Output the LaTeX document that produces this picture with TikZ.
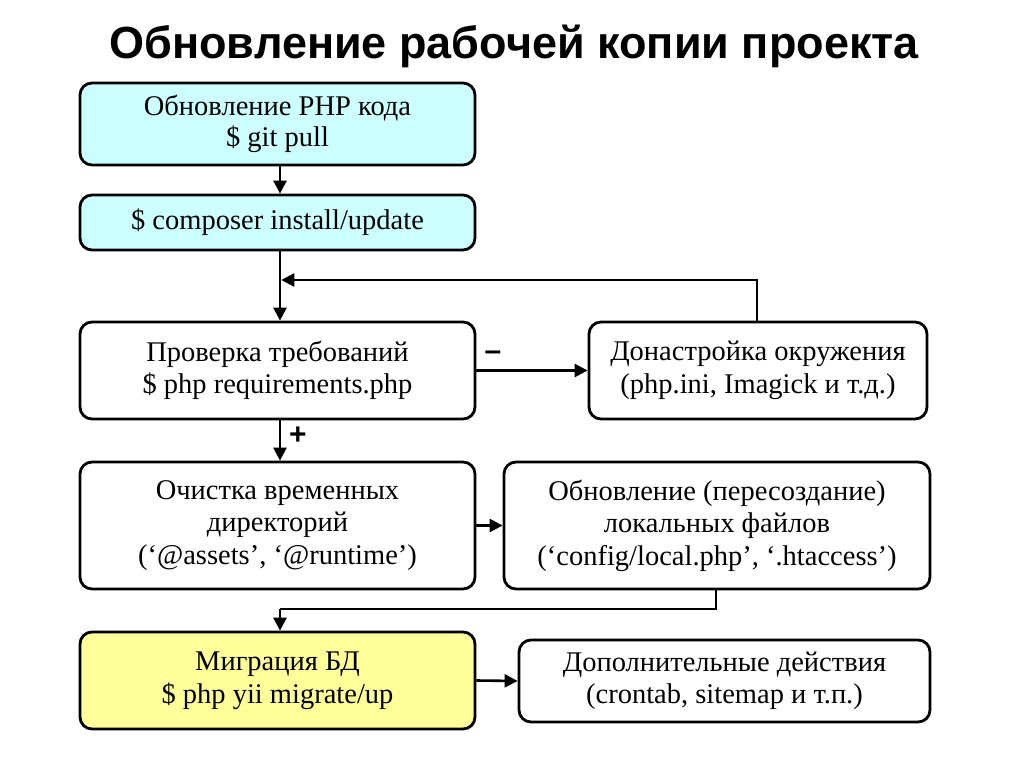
\documentclass[tikz,border=0pt]{standalone}
\usepackage{fontspec}
\setmainfont{Liberation Serif}
\newfontfamily\titlefont{Liberation Sans}
\usetikzlibrary{arrows.meta}
\definecolor{cyanfill}{HTML}{CCFFFF}
\definecolor{yellowfill}{HTML}{FFFF99}
\tikzset{
  box/.style={draw=black, line width=2.8pt, rounded corners=12pt, align=center, inner sep=0pt,
    font=\fontsize{28.5}{32.5}\selectfont},
  arr/.style={line width=2.6pt, -{Triangle[length=13pt,width=13pt]}},
  ln/.style={line width=2.6pt},
  sign/.style={font=\titlefont\bfseries\fontsize{30}{32}\selectfont},
}
\begin{document}
\begin{tikzpicture}[x=1pt,y=-1pt]
\useasboundingbox (0,0) rectangle (1024,767);
\node[font=\titlefont\bfseries\fontsize{45}{48}\selectfont] (title) at (514,46) {Обновление рабочей копии проекта};
\node[box, fill=cyanfill, minimum width=395pt, minimum height=82pt] (b1) at (277.5,124) {\raisebox{-3pt}{\shortstack{Обновление PHP кода\\[2pt]\$ git pull}}};
\node[box, fill=cyanfill, minimum width=395pt, minimum height=55pt] (b2) at (277.5,222.5) {\$ composer install/update};
\node[box, minimum width=395pt, minimum height=97pt] (b3) at (277.5,370.5) {Проверка требований\\\$ php requirements.php};
\node[box, minimum width=338pt, minimum height=97pt] (b4) at (758,370.5) {Донастройка окружения\\(php.ini, Imagick и т.д.)};
\node[box, minimum width=395pt, minimum height=127pt] (b5) at (277.5,525.5) {Очистка временных\\директорий\\(‘@assets’, ‘@runtime’)};
\node[box, minimum width=426pt, minimum height=127pt] (b6) at (717,525.5) {Обновление (пересоздание)\\локальных файлов\\(‘config/local.php’, ‘.htaccess’)};
\node[box, fill=yellowfill, minimum width=395pt, minimum height=97pt] (b7) at (277.5,680.5) {Миграция БД\\\$ php yii migrate/up};
\node[box, minimum width=411pt, minimum height=82pt] (b8) at (724.5,681) {Дополнительные действия\\(crontab, sitemap и т.п.)};
\coordinate (fb) at (280,280);
\coordinate (fbr) at (757,280);
\coordinate (mj) at (280,609);
\coordinate (mjr) at (716,609);
\draw[arr] (b1.south -| fb) -- (b2.north -| fb);
\draw[arr] (b2.south -| fb) -- (b3.north -| fb);
\draw[arr] (b4.north -| fbr) -- (fbr) -- ([xshift=1.3pt]fb);
\draw[arr] (b3.east) -- (b4.west);
\node[sign] (minus) at (493,356) {–};
\draw[arr] (b3.south -| fb) -- (b5.north -| fb);
\node[sign] (plus) at (298,436) {+};
\draw[arr] (b5.east) -- (b6.west);
\draw[ln] (b6.south -| mjr) -- (mjr) -- (mj);
\draw[arr] (mj) -- (b7.north -| fb);
\draw[arr] (b7.east) -- (b8.west);
\end{tikzpicture}
\end{document}
